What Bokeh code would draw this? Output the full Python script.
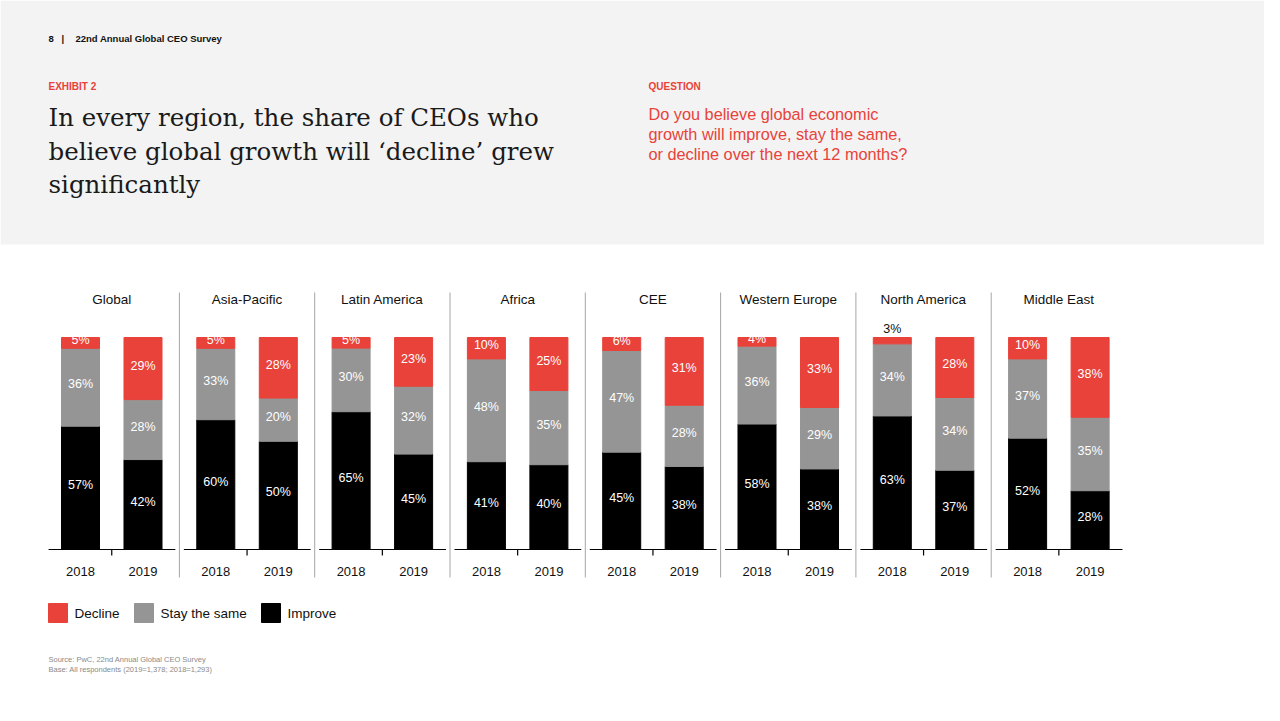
from bokeh.plotting import figure
from bokeh.models import Range1d, ColumnDataSource
from bokeh.core.properties import value
from bokeh.embed import file_html
from bokeh.resources import INLINE

# ---------------- data ----------------
regions = ["Global", "Asia-Pacific", "Latin America", "Africa", "CEE",
           "Western Europe", "North America", "Middle East"]
years = ["2018", "2019"]
decline_2018 = [5, 5, 5, 10, 6, 4, 3, 10]
stay_2018 = [36, 33, 30, 48, 47, 36, 34, 37]
improve_2018 = [57, 60, 65, 41, 45, 58, 63, 52]
decline_2019 = [29, 28, 23, 25, 31, 33, 28, 38]
stay_2019 = [28, 20, 32, 35, 28, 29, 34, 35]
improve_2019 = [42, 50, 45, 40, 38, 38, 37, 28]
legend_labels = ["Decline", "Stay the same", "Improve"]

# ---------------- style ----------------
RED = "#e8423a"
GRAY = "#959595"
BLACK = "#000000"
BAND = "#f3f3f3"
SANS = value("Liberation Sans")
SERIF = value("DejaVu Serif")
BAR_W = 0.281
OFFS = {"2018": -0.231, "2019": 0.231}

W, H = 1264, 705
p = figure(width=W, height=H, x_range=Range1d(0, W), y_range=Range1d(H, 0),
           output_backend="svg", toolbar_location=None, min_border=0,
           x_axis_type=None, y_axis_type=None)
p.outline_line_color = None
p.background_fill_color = "white"
p.border_fill_color = "white"
p.extra_x_ranges = {"reg": Range1d(-0.82225, 8.5199)}
p.extra_y_ranges = {"pct": Range1d(-73.58, 258.96)}

# ---------------- header band ----------------
p.quad(left=[0], right=[W], top=[0], bottom=[244], color=BAND, line_color=None)
p.text(x=[48], y=[38], text=["8"], text_font=SANS, text_font_size="9.5px",
       text_font_style="bold", text_color="#111111", text_baseline="middle")
p.text(x=[61], y=[38], text=["|"], text_font=SANS, text_font_size="9.5px",
       text_font_style="bold", text_color="#111111", text_baseline="middle")
p.text(x=[75], y=[38], text=["22nd Annual Global CEO Survey"], text_font=SANS,
       text_font_size="9.5px", text_font_style="bold", text_color="#111111",
       text_baseline="middle")
p.text(x=[48, 648], y=[86, 86], text=["EXHIBIT 2", "QUESTION"], text_font=SANS,
       text_font_size="10px", text_font_style="bold", text_color=RED,
       text_baseline="middle")
title_lines = ["In every region, the share of CEOs who",
               "believe global growth will \u2018decline\u2019 grew",
               "significantly"]
p.text(x=[48, 48, 48], y=[117, 150.5, 184], text=title_lines, text_font=SERIF,
       text_font_size="24.5px", text_color="#1a1a1a", text_baseline="middle")
question_lines = ["Do you believe global economic",
                  "growth will improve, stay the same,",
                  "or decline over the next 12 months?"]
p.text(x=[648, 648, 648], y=[113, 133, 153], text=question_lines, text_font=SANS,
       text_font_size="16.3px", text_color=RED, text_baseline="middle")

# ---------------- bars (100% stacked) ----------------
xs, imp, sty, dec, yr = [], [], [], [], []
for y in years:
    d = decline_2018 if y == "2018" else decline_2019
    s = stay_2018 if y == "2018" else stay_2019
    m = improve_2018 if y == "2018" else improve_2019
    for i in range(len(regions)):
        xs.append(i + OFFS[y]); imp.append(m[i]); sty.append(s[i]); dec.append(d[i]); yr.append(y)

tot = [a + b + c for a, b, c in zip(imp, sty, dec)]
imp_s = [100 * a / t for a, t in zip(imp, tot)]
sty_s = [100 * b / t for b, t in zip(sty, tot)]
dec_s = [100 * c / t for c, t in zip(dec, tot)]

src = ColumnDataSource(dict(x=xs, improve=imp_s, stay=sty_s, decline=dec_s))
p.vbar_stack(["improve", "stay", "decline"], x="x", width=BAR_W,
             color=[BLACK, GRAY, RED], source=src,
             x_range_name="reg", y_range_name="pct")

# segment labels (raw values)
lx, ly, lt = [], [], []
ox, oy, ot = [], [], []
for k in range(len(xs)):
    a, b, c = imp_s[k], sty_s[k], dec_s[k]
    lx += [xs[k], xs[k]]; ly += [a / 2, a + b / 2]; lt += [f"{imp[k]}%", f"{sty[k]}%"]
    if dec[k] < 4:
        ox.append(xs[k]); oy.append(a + b + c); ot.append(f"{dec[k]}%")
    else:
        lx.append(xs[k]); ly.append(a + b + c / 2); lt.append(f"{dec[k]}%")
p.text(x=lx, y=ly, text=lt, text_font=SANS, text_font_size="12.5px",
       text_color="white", text_align="center", text_baseline="middle",
       y_offset=-3, x_range_name="reg", y_range_name="pct")
p.text(x=ox, y=oy, text=ot, text_font=SANS, text_font_size="12.5px",
       text_color="#111111", text_align="center", text_baseline="middle",
       y_offset=-9, x_range_name="reg", y_range_name="pct")

# baselines + centre ticks
n = len(regions)
idx = list(range(n))
p.segment(x0=[i - 0.467 for i in idx], x1=[i + 0.47 for i in idx],
          y0=[0] * n, y1=[0] * n, line_color=BLACK, line_width=1.2,
          x_range_name="reg", y_range_name="pct")
p.segment(x0=idx, x1=idx, y0=[0] * n, y1=[-2.83] * n, line_color=BLACK,
          line_width=1.2, x_range_name="reg", y_range_name="pct")

# separators
p.segment(x0=[i + 0.5 for i in idx[:-1]], x1=[i + 0.5 for i in idx[:-1]],
          y0=[292] * (n - 1), y1=[577] * (n - 1), line_color="#a6a6a6",
          line_width=1, x_range_name="reg")

# region titles and year labels
p.text(x=idx, y=[299] * n, text=regions, text_font=SANS, text_font_size="13.5px",
       text_color="#111111", text_align="center", text_baseline="middle",
       x_range_name="reg")
p.text(x=xs, y=[571] * len(xs), text=yr, text_font=SANS, text_font_size="13px",
       text_color="#111111", text_align="center", text_baseline="middle",
       x_range_name="reg")

# ---------------- legend ----------------
p.rect(x=[57.5, 143.5, 270.5], y=[612.5] * 3, width=19, height=19,
       color=[RED, GRAY, BLACK])
p.text(x=[74, 160, 287], y=[612.5] * 3, text=legend_labels, text_font=SANS,
       text_font_size="13.5px", text_color="#111111", text_baseline="middle")

# ---------------- source ----------------
p.text(x=[48, 48], y=[659, 669],
       text=["Source: PwC, 22nd Annual Global CEO Survey",
             "Base: All respondents (2019=1,378; 2018=1,293)"],
       text_font=SANS, text_font_size="7.5px", text_color="#8a8a8a",
       text_baseline="middle")

open("out.html", "w").write(file_html(p, INLINE))
